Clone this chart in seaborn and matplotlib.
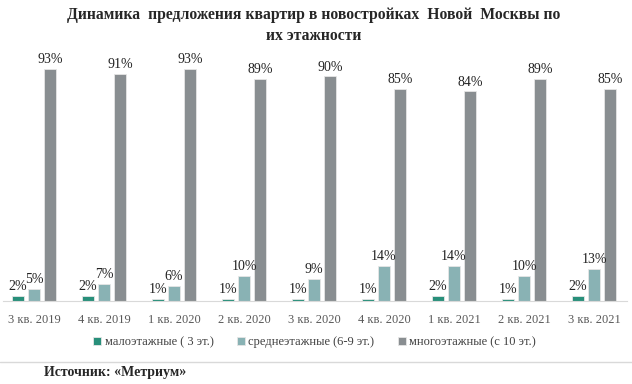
import pandas as pd
import matplotlib
matplotlib.use('Agg')
import matplotlib.pyplot as plt
import seaborn as sns
from matplotlib.lines import Line2D

kvartaly = ['3 кв. 2019', '4 кв. 2019', '1 кв. 2020', '2 кв. 2020', '3 кв. 2020',
            '4 кв. 2020', '1 кв. 2021', '2 кв. 2021', '3 кв. 2021']
malo = [2, 2, 1, 1, 1, 1, 2, 1, 2]
sredne = [5, 7, 6, 10, 9, 14, 14, 10, 13]
mnogo = [93, 91, 93, 89, 90, 85, 84, 89, 85]
serii = ['малоэтажные ( 3 эт.)', 'среднеэтажные (6-9 эт.)', 'многоэтажные (с 10 эт.)']
cveta = ['#17a084', '#82b8bb', '#888e92']

df = pd.DataFrame({'kv': kvartaly * 3,
                   'seriya': [serii[0]] * 9 + [serii[1]] * 9 + [serii[2]] * 9,
                   'val': malo + sredne + mnogo})

sns.set_style('white')
plt.rcParams['font.family'] = ['Liberation Serif', 'DejaVu Serif']

fig = plt.figure(figsize=(6.32, 3.84), dpi=100)
ax = fig.add_axes([0.004, 0.216, 0.988, 0.65])

sns.barplot(data=df, x='kv', y='val', hue='seriya', palette=cveta, width=0.69, gap=0.22,
            edgecolor='#e6e6e6', linewidth=0.6, ax=ax)

for c in ax.containers:
    ax.bar_label(c, fmt='%d%%', fontsize=10, padding=2, color='#222222')

ax.set_ylim(0, 100)
ax.set_xlim(-0.45, 8.47)
ax.set_xlabel('')
ax.set_ylabel('')
ax.set_yticks([])
ax.tick_params(axis='x', length=0, labelsize=9, labelcolor='#595959', pad=9)
for s in ['top', 'right', 'left']:
    ax.spines[s].set_visible(False)
ax.spines['bottom'].set_color('#d9d9d9')

ax.legend(loc='upper center', bbox_to_anchor=(0.5, -0.095), ncol=3, frameon=False,
          fontsize=9, handlelength=0.6, handleheight=0.6, handletextpad=0.3,
          columnspacing=1.9, labelcolor='#404040')

fig.text(0.497, 0.982, 'Динамика  предложения квартир в новостройках  Новой  Москвы по\nих этажности',
         ha='center', va='top', fontsize=11.3, fontweight='bold', linespacing=1.4)

fig.add_artist(Line2D([0, 1], [0.057, 0.057], color='#d9d9d9', lw=1))
fig.text(0.07, 0.031, 'Источник: «Метриум»', fontsize=10, fontweight='bold', va='center')

fig.savefig('out.png', dpi=100)
